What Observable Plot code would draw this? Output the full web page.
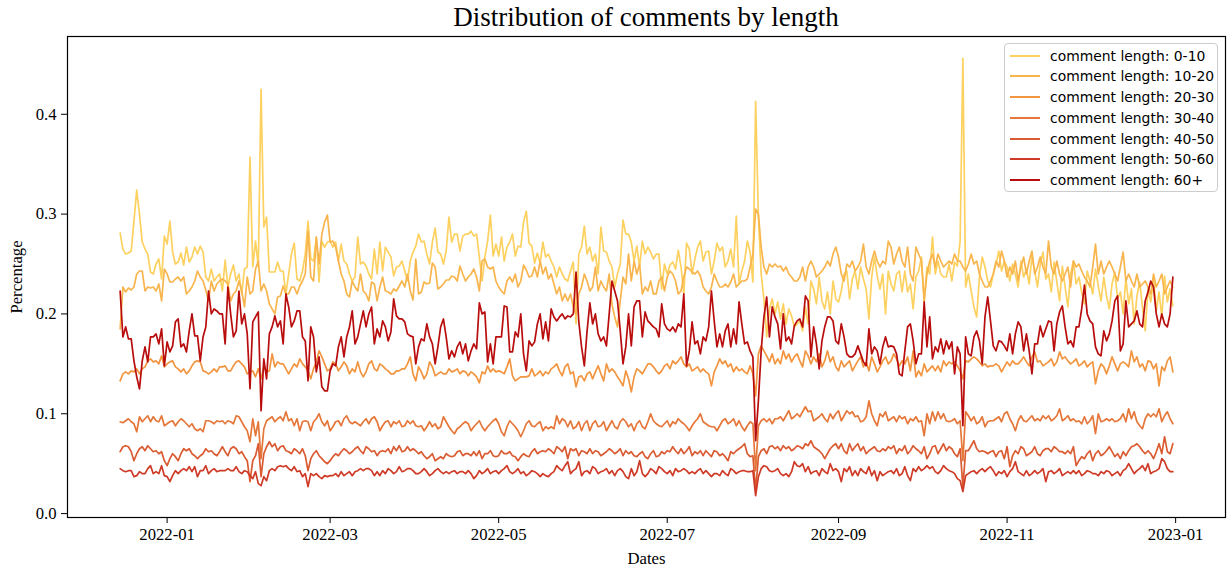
<!DOCTYPE html>
<html><head><meta charset="utf-8">
<script src="https://cdn.jsdelivr.net/npm/d3@7"></script>
<script src="https://cdn.jsdelivr.net/npm/@observablehq/plot@0.6"></script>
<style>
body{margin:0;background:#fff;}
#wrap{position:relative;width:1228px;height:567px;overflow:hidden;background:#fff;}
#title{height:33px;box-sizing:border-box;padding-left:67px;padding-right:3px;font-family:"Liberation Serif",serif;font-size:27px;line-height:35px;text-align:center;color:#000;white-space:nowrap;}
#chart svg text{font-family:"Liberation Serif",serif !important;font-size:16.7px !important;font-variant:normal !important;}
#legend{position:absolute;left:1004px;top:43px;width:214px;height:149px;border:1px solid #cccccc;border-radius:4px;background:rgba(255,255,255,0.85);box-sizing:border-box;font-family:"DejaVu Sans",sans-serif;font-size:13.9px;color:#000;}
.row{position:absolute;left:0;width:100%;height:20px;}
.sw{position:absolute;left:5px;top:9px;width:30px;height:2px;}
.lb{position:absolute;left:45px;top:0;line-height:20px;white-space:nowrap;}
</style></head><body>
<div id="wrap"><div id="title">Distribution of comments by length</div><div id="chart"></div><div id="legend"></div></div>
<script>
const seriesNames = ["comment length: 0-10","comment length: 10-20","comment length: 20-30","comment length: 30-40","comment length: 40-50","comment length: 50-60","comment length: 60+"];
const seriesColors = ["#fdd160","#f8b54e","#f29540","#e5773a","#da5a31","#cf3a26","#b90c0c"];
// first day of each monthly chunk (UTC): Dec 15 2021, then the 1st of each month of 2022
const monthStarts = [[2021,11,15],[2022,0,1],[2022,1,1],[2022,2,1],[2022,3,1],[2022,4,1],[2022,5,1],[2022,6,1],[2022,7,1],[2022,8,1],[2022,9,1],[2022,10,1],[2022,11,1]];
const yTicks = [0, 0.1, 0.2, 0.3, 0.4];

const s0_10 = [
[.281,.265,.260,.261,.263,.293,.324,.300,.272,.265,.260,.242,.240,.250,.255,.235,.278],
[.270,.293,.262,.250,.252,.261,.249,.267,.252,.257,.267,.260,.268,.262,.237,.233,.245,.233,.237,.240,.223,.254,.227,.240,.249,.233,.240,.220,.245,.247,.357],
[.247,.273,.247,.425,.287,.297,.242,.242,.242,.252,.243,.243,.220,.240,.260,.271,.235,.233,.243,.260,.293,.255,.253,.277,.232,.273,.267,.272],
[.273,.267,.272,.253,.270,.253,.250,.240,.233,.237,.277,.250,.252,.248,.240,.235,.265,.240,.272,.243,.267,.262,.257,.238,.247,.248,.253,.243,.233,.253,.262],
[.268,.280,.272,.273,.260,.250,.272,.286,.262,.260,.250,.263,.297,.272,.280,.280,.263,.278,.280,.280,.283,.278,.280,.257,.233,.257,.273,.299,.258,.270],
[.258,.277,.253,.267,.272,.280,.258,.268,.267,.292,.303,.271,.268,.251,.261,.251,.272,.257,.260,.253,.247,.237,.247,.240,.235,.233,.243,.252,.190,.260,.267],
[.288,.260,.267,.253,.260,.240,.287,.263,.262,.253,.247,.227,.240,.250,.294,.280,.280,.272,.253,.268,.247,.273,.260,.267,.262,.255,.260,.260,.225,.250],
[.240,.249,.252,.245,.264,.247,.220,.271,.265,.240,.255,.267,.273,.253,.262,.263,.240,.253,.271,.263,.267,.247,.253,.265,.247,.298,.230,.243,.253,.273,.262],
[.232,.413,.297,.240,.215,.177,.205,.215,.200,.212,.195,.210,.190,.205,.198,.187,.190,.193,.183,.207,.190,.233,.225,.210,.237,.213,.205,.222,.200,.233,.215],
[.212,.223,.240,.243,.215,.235,.243,.225,.247,.235,.225,.195,.237,.257,.238,.225,.240,.200,.243,.230,.223,.240,.243,.222,.243,.222,.230,.205,.237,.243],
[.257,.213,.247,.240,.277,.240,.253,.240,.237,.237,.250,.233,.252,.248,.273,.456,.227,.240,.223,.207,.197,.237,.257,.247,.233,.227,.240,.250,.263,.243,.253],
[.247,.233,.250,.240,.227,.253,.237,.245,.230,.258,.243,.227,.250,.262,.235,.240,.222,.252,.232,.213,.248,.227,.207,.240,.253,.230,.237,.222,.210,.243],
[.233,.220,.245,.228,.213,.237,.218,.205,.230,.242,.215,.222,.200,.236,.210,.225,.190,.218,.232,.207,.183,.225,.212,.236,.203,.222,.197,.238,.212,.225,.208]
];
const s10_20 = [
[.185,.227,.222,.226,.224,.227,.240,.243,.243,.223,.227,.226,.227,.223,.230,.213,.245],
[.240,.232,.232,.235,.237,.233,.237,.220,.223,.227,.233,.243,.237,.233,.224,.213,.233,.223,.230,.233,.235,.233,.230,.213,.220,.223,.233,.223,.207,.237,.220],
[.223,.245,.253,.223,.230,.223,.210,.205,.200,.217,.218,.228,.220,.220,.227,.227,.220,.228,.233,.240,.283,.237,.233,.277,.250,.280,.292,.299],
[.272,.273,.267,.253,.240,.233,.220,.217,.233,.227,.223,.240,.223,.220,.213,.232,.230,.213,.227,.237,.223,.222,.220,.225,.223,.228,.233,.227,.240,.223,.214],
[.255,.220,.222,.232,.230,.231,.251,.247,.225,.227,.230,.234,.234,.238,.237,.233,.248,.240,.233,.237,.240,.245,.237,.223,.253,.255,.247,.245,.247,.233],
[.227,.223,.220,.233,.237,.232,.240,.227,.233,.249,.244,.237,.238,.247,.237,.253,.240,.247,.235,.240,.230,.220,.227,.213,.220,.213,.220,.207,.200,.220,.227],
[.240,.233,.223,.227,.247,.223,.233,.227,.223,.240,.210,.197,.187,.213,.237,.230,.260,.233,.253,.240,.250,.220,.227,.223,.233,.220,.220,.233,.237,.223],
[.237,.243,.240,.233,.220,.223,.237,.247,.245,.242,.240,.243,.238,.227,.223,.220,.227,.240,.233,.227,.227,.230,.227,.232,.240,.227,.230,.233,.233,.235,.247],
[.260,.305,.300,.267,.247,.240,.250,.247,.250,.247,.248,.243,.247,.240,.237,.233,.233,.237,.247,.233,.247,.253,.247,.237,.240,.243,.247,.253,.248,.260,.267],
[.257,.240,.233,.250,.247,.253,.243,.247,.253,.270,.247,.240,.253,.263,.253,.247,.253,.250,.273,.267,.250,.260,.267,.253,.247,.267,.240,.233,.267,.260],
[.253,.213,.240,.253,.260,.247,.260,.253,.247,.250,.253,.250,.260,.253,.253,.247,.243,.250,.260,.250,.253,.240,.233,.227,.227,.233,.240,.253,.247,.263,.253],
[.237,.247,.240,.253,.233,.247,.257,.240,.253,.263,.240,.247,.257,.247,.240,.273,.247,.240,.253,.240,.233,.240,.247,.227,.253,.247,.250,.243,.237,.233],
[.227,.247,.270,.240,.253,.240,.247,.253,.247,.240,.233,.247,.262,.233,.240,.233,.227,.240,.227,.230,.233,.227,.220,.240,.227,.233,.240,.220,.227,.233,.227]
];
const s20_30 = [
[.133,.140,.142,.140,.143,.142,.145,.140,.145,.147,.153,.155,.152,.153,.150,.158,.147],
[.150,.152,.153,.147,.145,.142,.145,.140,.143,.148,.152,.153,.152,.143,.142,.140,.142,.145,.142,.147,.147,.148,.143,.143,.148,.152,.153,.150,.147,.140,.142],
[.143,.137,.145,.135,.147,.142,.143,.160,.147,.152,.150,.150,.145,.140,.145,.150,.147,.155,.150,.147,.143,.135,.145,.152,.163,.157,.150,.143],
[.145,.152,.150,.143,.147,.152,.148,.140,.145,.142,.152,.142,.137,.142,.150,.153,.145,.143,.150,.148,.145,.143,.140,.140,.143,.143,.145,.145,.150,.157,.140],
[.133,.147,.142,.135,.140,.152,.147,.138,.140,.142,.140,.140,.145,.142,.143,.145,.140,.143,.142,.138,.142,.140,.137,.131,.142,.140,.148,.142,.145,.142],
[.143,.142,.140,.147,.155,.138,.133,.135,.137,.137,.137,.138,.145,.138,.140,.143,.138,.142,.140,.145,.147,.150,.143,.138,.147,.150,.140,.142,.127,.137,.138],
[.133,.140,.142,.135,.142,.148,.140,.133,.150,.142,.145,.142,.137,.133,.128,.143,.135,.122,.137,.145,.143,.140,.145,.150,.150,.147,.143,.140,.143,.148],
[.150,.145,.153,.150,.153,.157,.150,.147,.150,.143,.145,.147,.142,.145,.142,.140,.128,.142,.148,.155,.150,.153,.147,.150,.142,.147,.143,.145,.142,.140,.148],
[.140,.118,.160,.168,.163,.158,.152,.160,.150,.155,.150,.163,.155,.160,.152,.157,.160,.153,.147,.163,.158,.150,.157,.152,.160,.147,.153,.163,.152,.157,.147],
[.143,.153,.147,.150,.153,.143,.148,.153,.157,.147,.152,.143,.157,.150,.142,.147,.153,.157,.150,.153,.160,.155,.148,.153,.150,.157,.143,.163,.137,.143],
[.138,.150,.142,.145,.148,.143,.148,.142,.153,.148,.152,.150,.152,.148,.143,.135,.153,.152,.155,.157,.155,.152,.148,.150,.147,.148,.148,.150,.148,.142,.147],
[.152,.148,.153,.150,.150,.153,.157,.152,.148,.157,.162,.152,.153,.148,.150,.152,.155,.148,.152,.162,.155,.157,.153,.150,.152,.155,.148,.150,.153,.147],
[.150,.152,.130,.143,.150,.147,.140,.148,.157,.150,.143,.150,.152,.150,.147,.163,.152,.157,.147,.150,.143,.153,.152,.145,.150,.128,.147,.143,.153,.157,.142]
];
const s30_40 = [
[.092,.091,.093,.095,.092,.090,.082,.097,.092,.095,.098,.092,.097,.093,.092,.098,.088],
[.090,.092,.093,.088,.092,.095,.093,.090,.087,.090,.085,.083,.085,.082,.093,.093,.092,.090,.093,.092,.093,.090,.093,.092,.090,.098,.097,.092,.087,.083,.072],
[.095,.078,.092,.055,.085,.093,.095,.097,.092,.095,.097,.093,.102,.093,.095,.088,.095,.083,.092,.093,.092,.083,.092,.095,.100,.092,.088,.093],
[.083,.087,.092,.093,.088,.095,.098,.092,.090,.092,.090,.088,.092,.095,.090,.095,.097,.092,.083,.088,.092,.093,.087,.092,.090,.093,.087,.088,.093,.090,.093],
[.088,.087,.088,.083,.087,.092,.087,.090,.085,.087,.097,.092,.087,.083,.080,.085,.087,.090,.092,.090,.083,.087,.090,.093,.087,.083,.087,.090,.093,.095],
[.090,.082,.078,.087,.093,.090,.087,.083,.077,.083,.090,.093,.088,.087,.090,.092,.083,.087,.085,.087,.085,.098,.090,.095,.093,.087,.093,.085,.087,.092,.083],
[.090,.093,.083,.090,.093,.087,.088,.092,.083,.088,.093,.087,.085,.092,.095,.092,.087,.090,.083,.090,.093,.087,.085,.092,.100,.093,.090,.088,.087,.090],
[.093,.087,.092,.090,.095,.092,.090,.087,.083,.088,.092,.095,.100,.092,.090,.088,.087,.087,.083,.088,.093,.095,.090,.092,.095,.088,.093,.087,.083,.088,.092],
[.090,.043,.088,.093,.095,.092,.095,.090,.095,.095,.097,.093,.098,.103,.095,.097,.100,.097,.102,.107,.102,.103,.093,.095,.097,.100,.095,.092,.100,.095,.100],
[.103,.093,.098,.103,.100,.102,.097,.098,.092,.093,.097,.113,.100,.093,.088,.100,.097,.102,.093,.095,.097,.092,.098,.095,.097,.090,.095,.093,.097,.092],
[.093,.078,.100,.090,.102,.093,.102,.095,.100,.093,.092,.093,.095,.090,.093,.053,.102,.098,.093,.097,.090,.092,.097,.087,.092,.093,.093,.095,.097,.092,.100],
[.102,.095,.090,.083,.093,.098,.093,.092,.095,.098,.093,.095,.093,.098,.095,.098,.093,.095,.098,.105,.093,.095,.098,.093,.095,.092,.093,.090,.097,.090],
[.093,.098,.080,.100,.092,.093,.095,.093,.095,.092,.093,.095,.100,.092,.105,.095,.102,.092,.088,.085,.095,.100,.097,.100,.097,.105,.092,.098,.102,.095,.090]
];
const s40_50 = [
[.062,.067,.068,.067,.062,.053,.060,.065,.067,.063,.068,.065,.062,.063,.060,.062,.053],
[.048,.055,.060,.057,.053,.060,.065,.063,.065,.060,.058,.055,.058,.060,.065,.062,.063,.060,.058,.062,.067,.062,.058,.065,.067,.065,.060,.062,.057,.053,.032],
[.053,.058,.070,.037,.060,.067,.072,.067,.070,.063,.067,.068,.063,.062,.060,.065,.063,.060,.065,.058,.043,.055,.060,.063,.058,.055,.052,.050],
[.053,.057,.060,.058,.062,.065,.063,.060,.062,.065,.067,.063,.060,.067,.065,.062,.063,.058,.062,.063,.062,.065,.060,.067,.063,.068,.062,.063,.067,.063,.065],
[.063,.060,.062,.058,.055,.057,.060,.053,.055,.057,.055,.060,.058,.057,.058,.062,.063,.058,.060,.060,.058,.062,.058,.063,.055,.060,.060,.063,.058,.057],
[.058,.063,.060,.060,.062,.058,.057,.053,.057,.060,.058,.057,.062,.065,.060,.062,.063,.062,.065,.063,.060,.067,.065,.062,.067,.055,.065,.063,.065,.058,.063],
[.062,.060,.065,.060,.063,.062,.058,.060,.062,.065,.063,.060,.062,.065,.058,.063,.060,.062,.058,.057,.060,.062,.057,.055,.060,.063,.057,.058,.062,.060],
[.063,.062,.067,.063,.060,.065,.060,.063,.067,.058,.062,.060,.063,.058,.063,.060,.057,.063,.062,.058,.060,.057,.053,.062,.060,.063,.065,.067,.070,.060,.057],
[.058,.023,.057,.063,.065,.060,.067,.068,.065,.067,.063,.068,.065,.067,.063,.065,.068,.067,.065,.070,.068,.073,.067,.065,.063,.060,.055,.060,.065,.068,.070],
[.065,.070,.063,.060,.070,.063,.067,.070,.063,.067,.060,.063,.065,.067,.063,.062,.065,.063,.067,.065,.068,.060,.065,.063,.068,.060,.063,.068,.065,.063],
[.060,.067,.055,.060,.067,.068,.060,.065,.070,.063,.067,.065,.060,.057,.065,.027,.063,.063,.068,.073,.065,.062,.063,.062,.060,.062,.063,.057,.062,.063,.055],
[.067,.047,.058,.063,.060,.067,.065,.058,.060,.062,.067,.060,.058,.063,.065,.065,.062,.067,.065,.062,.062,.060,.063,.060,.067,.048,.053,.057,.055,.060],
[.063,.053,.060,.063,.058,.060,.063,.067,.062,.057,.060,.055,.062,.058,.063,.067,.068,.070,.067,.063,.060,.063,.060,.055,.062,.070,.060,.077,.062,.060,.070]
];
const s50_60 = [
[.045,.043,.042,.043,.043,.037,.038,.042,.040,.040,.045,.048,.040,.042,.040,.048,.038],
[.037,.032,.038,.043,.040,.043,.045,.043,.047,.042,.047,.037,.043,.043,.048,.040,.043,.045,.042,.043,.043,.043,.045,.043,.043,.047,.042,.040,.043,.042,.038],
[.035,.042,.030,.028,.037,.033,.043,.045,.043,.047,.048,.047,.048,.045,.043,.047,.042,.043,.037,.040,.027,.040,.038,.040,.037,.035,.038,.037],
[.038,.038,.040,.037,.042,.038,.040,.042,.038,.042,.043,.045,.043,.045,.045,.043,.038,.042,.038,.043,.040,.045,.043,.040,.042,.047,.042,.043,.045,.045,.043],
[.040,.040,.042,.045,.042,.038,.040,.043,.045,.042,.040,.042,.040,.042,.043,.040,.042,.042,.040,.043,.040,.035,.038,.043,.040,.042,.045,.040,.042,.043],
[.040,.043,.045,.048,.042,.040,.042,.045,.040,.042,.038,.040,.043,.042,.040,.037,.040,.038,.037,.040,.042,.048,.045,.043,.048,.052,.040,.043,.045,.052,.038],
[.042,.043,.040,.047,.045,.040,.042,.043,.045,.040,.043,.038,.043,.045,.042,.037,.035,.045,.038,.042,.053,.040,.037,.040,.045,.043,.040,.047,.045,.042],
[.040,.043,.038,.045,.042,.043,.045,.043,.040,.042,.040,.043,.045,.040,.043,.040,.037,.040,.040,.038,.043,.040,.038,.045,.043,.040,.042,.043,.043,.042,.042],
[.043,.018,.037,.045,.048,.047,.043,.042,.043,.045,.040,.038,.040,.037,.042,.052,.048,.047,.050,.042,.047,.040,.042,.043,.038,.045,.042,.040,.050,.043,.045],
[.042,.032,.045,.042,.047,.038,.043,.038,.045,.042,.040,.047,.038,.043,.033,.042,.038,.040,.042,.043,.040,.045,.038,.040,.047,.038,.033,.045,.042,.047],
[.043,.045,.048,.045,.047,.042,.040,.043,.048,.045,.043,.042,.040,.035,.033,.022,.038,.040,.042,.043,.040,.043,.045,.042,.045,.047,.043,.038,.042,.040,.043],
[.037,.042,.045,.052,.042,.040,.038,.043,.038,.040,.043,.040,.042,.045,.032,.042,.043,.040,.042,.045,.038,.040,.042,.040,.043,.040,.043,.038,.040,.043],
[.042,.040,.040,.038,.042,.040,.043,.042,.038,.040,.042,.038,.043,.045,.050,.045,.040,.043,.045,.048,.043,.050,.040,.042,.043,.045,.055,.052,.045,.042,.042]
];
const s60plus = [
[.223,.177,.187,.175,.175,.153,.137,.125,.153,.167,.152,.177,.177,.180,.170,.185,.148],
[.172,.162,.168,.192,.195,.167,.170,.162,.183,.200,.178,.178,.153,.177,.187,.223,.200,.205,.203,.200,.200,.170,.227,.200,.177,.183,.223,.190,.200,.180,.125],
[.192,.197,.202,.103,.155,.135,.180,.187,.198,.187,.193,.170,.220,.207,.187,.193,.203,.203,.177,.173,.133,.187,.177,.142,.157,.127,.123,.123],
[.143,.150,.148,.167,.177,.157,.177,.187,.203,.170,.177,.190,.203,.187,.200,.207,.170,.185,.177,.193,.187,.173,.182,.215,.198,.195,.195,.192,.180,.178,.177],
[.150,.167,.175,.173,.190,.177,.170,.150,.167,.187,.195,.177,.155,.163,.157,.167,.172,.160,.170,.153,.163,.170,.165,.211,.200,.202,.152,.170,.150,.177],
[.177,.177,.208,.207,.162,.162,.182,.177,.200,.160,.143,.173,.168,.172,.190,.200,.175,.192,.173,.205,.197,.193,.197,.200,.195,.198,.197,.200,.242,.192,.167],
[.148,.183,.211,.190,.200,.180,.173,.177,.168,.200,.233,.223,.213,.183,.150,.167,.200,.168,.207,.213,.213,.177,.202,.193,.190,.187,.185,.177,.210,.190],
[.185,.183,.187,.182,.190,.187,.220,.148,.163,.192,.170,.173,.160,.177,.173,.187,.223,.193,.167,.180,.167,.183,.190,.167,.185,.170,.212,.190,.170,.172,.163],
[.157,.073,.113,.163,.197,.217,.177,.207,.197,.190,.165,.200,.173,.177,.170,.188,.193,.195,.187,.218,.213,.157,.187,.170,.145,.173,.187,.197,.197,.193,.173],
[.170,.190,.177,.160,.157,.157,.160,.168,.160,.152,.148,.185,.160,.167,.163,.150,.167,.177,.167,.168,.167,.160,.140,.138,.163,.187,.190,.173,.150,.160],
[.160,.212,.167,.197,.155,.167,.162,.175,.160,.173,.165,.172,.140,.167,.160,.088,.177,.160,.158,.177,.183,.173,.150,.197,.217,.193,.168,.163,.173,.172,.168],
[.163,.180,.160,.180,.192,.187,.163,.180,.163,.140,.170,.170,.188,.177,.185,.193,.192,.163,.190,.202,.208,.187,.170,.173,.167,.187,.187,.205,.229,.200],
[.193,.190,.167,.160,.158,.183,.173,.180,.193,.213,.218,.163,.170,.213,.187,.190,.193,.203,.190,.187,.213,.222,.233,.227,.200,.187,.200,.190,.187,.200,.237]
];
const seriesValues = [s0_10, s10_20, s20_30, s30_40, s40_50, s50_60, s60plus];

const data = [];
seriesNames.forEach((name, si) => {
  seriesValues[si].forEach((chunk, mi) => {
    const [yr, mo, d0] = monthStarts[mi];
    chunk.forEach((v, k) => data.push({series: name, date: new Date(Date.UTC(yr, mo, d0 + k)), value: v}));
  });
});

// matplotlib-like 5% margins around the data
const [t0, t1] = d3.extent(data, d => d.date);
const tPad = (t1 - t0) * 0.05;
const [v0, v1] = d3.extent(data, d => d.value);
const vPad = (v1 - v0) * 0.05;

const chart = Plot.plot({
  width: 1228,
  height: 534,
  marginTop: 3,
  marginBottom: 50,
  marginLeft: 67,
  marginRight: 3,
  style: {fontFamily: '"Liberation Serif", serif', fontSize: "16.7px", color: "#000", background: "#fff", overflow: "visible"},
  x: {type: "utc", domain: [new Date(+t0 - tPad), new Date(+t1 + tPad)]},
  y: {domain: [v0 - vPad, v1 + vPad]},
  color: {domain: seriesNames, range: seriesColors},
  marks: [
    Plot.lineY(data, {x: "date", y: "value", z: "series", stroke: "series", strokeWidth: 1.7}),
    Plot.frame({stroke: "#000", strokeWidth: 1.2}),
    Plot.axisX({ticks: d3.utcMonth.every(2), tickFormat: d3.utcFormat("%Y-%m"), tickSize: 6, tickPadding: 5,
      label: "Dates", labelAnchor: "center", labelOffset: 46, labelArrow: "none"}),
    Plot.axisY({ticks: yTicks, tickFormat: d3.format(".1f"), tickSize: 6, tickPadding: 5,
      label: "Percentage", labelAnchor: "center", labelOffset: 57, labelArrow: "none"})
  ]
});
document.getElementById("chart").appendChild(chart);

// legend (matplotlib style, upper right inside the axes)
const legend = document.getElementById("legend");
seriesNames.forEach((name, i) => {
  const row = document.createElement("div");
  row.className = "row";
  row.style.top = (1.7 + i * 20.75) + "px";
  const sw = document.createElement("div");
  sw.className = "sw";
  sw.style.background = seriesColors[i];
  const lb = document.createElement("div");
  lb.className = "lb";
  lb.textContent = name;
  row.appendChild(sw);
  row.appendChild(lb);
  legend.appendChild(row);
});
</script>
</body></html>
